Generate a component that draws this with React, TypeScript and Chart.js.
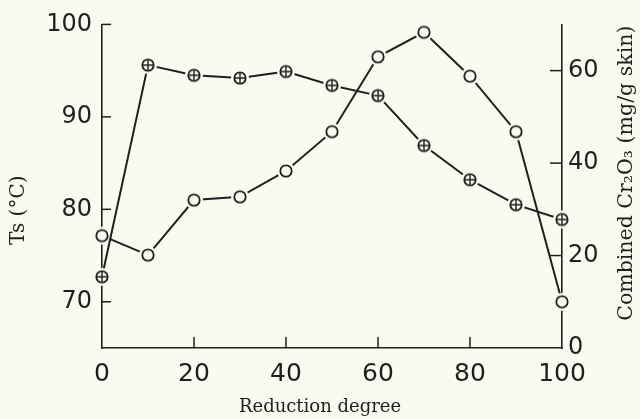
import React, { useEffect, useRef } from "react";
import { Chart, registerables } from "chart.js";

Chart.register(...registerables);

const reduction = [0, 10, 20, 30, 40, 50, 60, 70, 80, 90, 100];
const tsValues = [72.7, 95.6, 94.5, 94.2, 94.9, 93.4, 92.3, 86.9, 83.2, 80.5, 78.9];
const crValues = [24.3, 20.1, 32.0, 32.7, 38.3, 46.8, 63.0, 68.3, 58.8, 46.8, 10.0];
const xTicks = [0, 20, 40, 60, 80, 100];
const tsTicks = [70, 80, 90, 100];
const crTicks = [0, 20, 40, 60];

const BG = "#fbfaf1";
const INK = "#1f1f1f";

function makeMarker(plus: boolean): HTMLCanvasElement {
  const c = document.createElement("canvas");
  c.width = 24;
  c.height = 24;
  const g = c.getContext("2d")!;
  const m = 12;
  g.fillStyle = BG;
  g.beginPath();
  g.arc(m, m, 9, 0, Math.PI * 2);
  g.fill();
  g.strokeStyle = INK;
  g.lineWidth = 1.8;
  g.beginPath();
  g.arc(m, m, 5.7, 0, Math.PI * 2);
  g.stroke();
  if (plus) {
    g.lineWidth = 1.4;
    g.beginPath();
    g.moveTo(m - 5.5, m);
    g.lineTo(m + 5.5, m);
    g.moveTo(m, m - 5.5);
    g.lineTo(m, m + 5.5);
    g.stroke();
  }
  return c;
}

const tickFont = { family: "'DejaVu Sans', sans-serif", size: 24, weight: "normal" as any };

const inTicksPlugin = {
  id: "inTicks",
  beforeDatasetsDraw(chart: any) {
    const { ctx, chartArea } = chart;
    ctx.save();
    ctx.strokeStyle = INK;
    ctx.lineWidth = 1.5;
    const xs = chart.scales.x;
    xs.ticks.forEach((t: any) => {
      const px = xs.getPixelForValue(t.value);
      if (Math.abs(px - chartArea.left) < 2 || Math.abs(px - chartArea.right) < 2) return;
      ctx.beginPath();
      ctx.moveTo(px, chartArea.bottom);
      ctx.lineTo(px, chartArea.bottom - 11);
      ctx.stroke();
    });
    const ys = chart.scales.y;
    ys.ticks.forEach((t: any) => {
      const py = ys.getPixelForValue(t.value);
      ctx.beginPath();
      ctx.moveTo(chartArea.left, py);
      ctx.lineTo(chartArea.left + 9, py);
      ctx.stroke();
    });
    const y1 = chart.scales.y1;
    y1.ticks.forEach((t: any) => {
      const py = y1.getPixelForValue(t.value);
      if (Math.abs(py - chartArea.bottom) < 2) return;
      ctx.beginPath();
      ctx.moveTo(chartArea.right, py);
      ctx.lineTo(chartArea.right - 12, py);
      ctx.stroke();
    });
    ctx.restore();
  },
  afterDraw(chart: any) {
    const { ctx, chartArea } = chart;
    ctx.save();
    ctx.fillStyle = INK;
    ctx.font = "18px 'DejaVu Serif', serif";
    ctx.textAlign = "center";
    ctx.textBaseline = "middle";
    ctx.fillText("Reduction degree", (chartArea.left + chartArea.right) / 2 - 12, chartArea.bottom + 59);
    ctx.save();
    ctx.font = "20px 'DejaVu Serif', serif";
    ctx.translate(chartArea.left - 83, (chartArea.top + chartArea.bottom) / 2 + 24);
    ctx.rotate(-Math.PI / 2);
    ctx.fillText("Ts (°C)", 0, 0);
    ctx.restore();
    ctx.save();
    ctx.font = "20.5px 'DejaVu Serif', serif";
    ctx.translate(chartArea.right + 65, (chartArea.top + chartArea.bottom) / 2 - 13);
    ctx.rotate(-Math.PI / 2);
    ctx.fillText("Combined Cr₂O₃ (mg/g skin)", 0, 0);
    ctx.restore();
    ctx.restore();
  },
};

export default function App() {
  const ref = useRef<HTMLCanvasElement>(null);
  useEffect(() => {
    document.body.style.margin = "0";
    document.body.style.background = BG;
    const plusImg = makeMarker(true);
    const circImg = makeMarker(false);
    const chart = new Chart(ref.current!, {
      type: "line",
      data: {
        datasets: [
          {
            label: "Ts",
            data: reduction.map((x, i) => ({ x, y: tsValues[i] })),
            yAxisID: "y",
            borderColor: INK,
            borderWidth: 2,
            pointStyle: plusImg as any,
            pointRadius: 6,
            clip: false as any,
            tension: 0,
          },
          {
            label: "Cr2O3",
            data: reduction.map((x, i) => ({ x, y: crValues[i] })),
            yAxisID: "y1",
            borderColor: INK,
            borderWidth: 2,
            pointStyle: circImg as any,
            pointRadius: 6,
            clip: false as any,
            tension: 0,
          },
        ],
      },
      options: {
        animation: false,
        responsive: false,
        layout: { padding: { top: 24, left: 0, right: 0, bottom: 0 } },
        plugins: { legend: { display: false }, tooltip: { enabled: false } },
        scales: {
          x: {
            type: "linear",
            min: 0,
            max: 100,
            afterBuildTicks: (s: any) => {
              s.ticks = xTicks.map((v) => ({ value: v }));
            },
            afterFit: (s: any) => {
              s.height = 71;
            },
            ticks: { font: { ...tickFont, size: 25 }, color: INK, padding: 11 },
            grid: { drawOnChartArea: false, drawTicks: false },
            border: { display: true, color: INK, width: 1.6 },
          },
          y: {
            type: "linear",
            position: "left",
            min: 65,
            max: 100,
            afterBuildTicks: (s: any) => {
              s.ticks = tsTicks.map((v) => ({ value: v }));
            },
            afterFit: (s: any) => {
              s.width = 102;
            },
            ticks: { font: tickFont, color: INK, padding: 10 },
            grid: { drawOnChartArea: false, drawTicks: false },
            border: { display: true, color: INK, width: 1.6 },
          },
          y1: {
            type: "linear",
            position: "right",
            min: 0,
            max: 70,
            afterBuildTicks: (s: any) => {
              s.ticks = crTicks.map((v) => ({ value: v }));
            },
            afterFit: (s: any) => {
              s.width = 78;
            },
            ticks: { font: tickFont, color: INK, padding: 6 },
            grid: { drawOnChartArea: false, drawTicks: false },
            border: { display: true, color: INK, width: 1.6 },
          },
        },
      },
      plugins: [inTicksPlugin],
    });
    return () => chart.destroy();
  }, []);
  return (
    <div style={{ width: 640, height: 419, background: BG }}>
      <canvas ref={ref} width={640} height={419} />
    </div>
  );
}
